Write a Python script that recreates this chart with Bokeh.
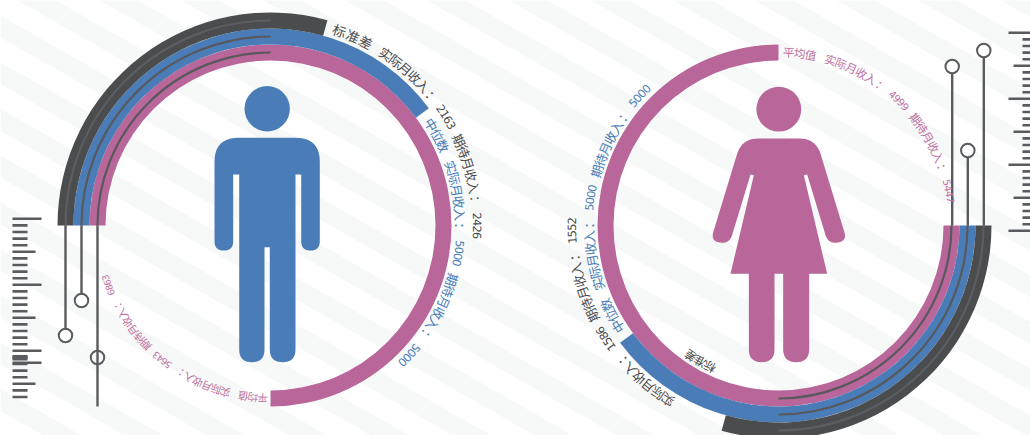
import math
from bokeh.plotting import figure
from bokeh.models import Range1d, ColumnDataSource
from bokeh.core.properties import value
from bokeh.embed import file_html
from bokeh.resources import INLINE

# ---- data ----
stat_names = ["平均值", "中位数", "标准差"]
actual_label = "实际月收入："
expected_label = "期待月收入："
male_actual = ["5643", "5000", "2163"]
male_expected = ["6863", "5000", "2426"]
female_actual = ["4999", "5000", "1586"]
female_expected = ["5447", "5000", "1552"]
ring_sweep_deg = [270, 143.5, 105.5]       # pink, blue, dark
ring_colors = ["#b9669a", "#4a7db8", "#4b4c4e"]
text_colors = ["#c0709f", "#4a7db8", "#4b4c4e"]
thin_colors = ["#58595c", "#58595c", "#5c5d60"]

W, H = 1030, 435
GREY = "#5a5b5f"
FONT = "Noto Sans CJK SC"
DIGIT_FONT = "DejaVu Sans"


def Y(v):
    return H - v


p = figure(width=W, height=H, x_range=Range1d(0, W), y_range=Range1d(0, H),
           output_backend="svg", toolbar_location=None, x_axis_type=None, y_axis_type=None,
           min_border=0, outline_line_color=None, background_fill_color="#ffffff",
           border_fill_color="#ffffff")
p.grid.visible = False

# ---- background stripes ----
sx, sy = [], []
slope = 0.57
period = 46.7
k = -30
while k < 12:
    y0 = 15 + period * k
    y1 = y0 + 22
    sx.append([0, W, W, 0])
    sy.append([Y(y0), Y(y0 + slope * W), Y(y1 + slope * W), Y(y1)])
    k += 1
p.patches(sx, sy, fill_color="#f7f9f9", line_color=None)


# ---- rulers ----
def ruler(x_edge, first, count, step, lens, side):
    l, r, t, b = [], [], [], []
    for i in range(count):
        n = lens[0] if i % 10 == 0 else lens[1] if i % 5 == 0 else lens[2]
        yy = first + step * i
        if side == "left":
            l.append(x_edge); r.append(x_edge + n)
        else:
            l.append(x_edge - n); r.append(x_edge)
        t.append(Y(yy - 1.3)); b.append(Y(yy + 1.3))
    p.quad(left=l, right=r, top=t, bottom=b, fill_color=GREY, line_color=None)


ruler(12, 218.3, 28, 6.6, (29, 23, 15), "left")
p.quad(left=[12, 12], right=[41, 27], top=[Y(361), Y(354.5)], bottom=[Y(363.6), Y(360)],
       fill_color=GREY, line_color=None)
ruler(1030, 32.3, 31, 6.6, (22, 17, 8), "right")


# ---- rings ----
def rings(cx, cy, start_deg):
    radii = [(165, 181), (181, 197), (197, 213)]
    for (ri, ro), sw, c in zip(radii, ring_sweep_deg, ring_colors):
        p.annular_wedge(x=[cx], y=[Y(cy)], inner_radius=ri, outer_radius=ro,
                        start_angle=math.radians(start_deg),
                        end_angle=math.radians(start_deg - sw),
                        direction="clock", fill_color=c, line_color=None)
    for r, c in zip((173, 189, 205), thin_colors):
        p.arc(x=[cx], y=[Y(cy)], radius=r, start_angle=math.radians(start_deg),
              end_angle=math.radians(start_deg - 90), direction="clock",
              line_color=c, line_width=2.2)


rings(270, 225, 180)
rings(778, 225, 0)

# ---- pins ----
for x, y_top, y_bot, yc in [(97, 225, 406, 357), (81, 225, 300, 300), (65, 225, 335, 335),
                            (951.7, 66, 225, 66), (967.3, 150, 225, 150), (983.3, 50, 225, 50)]:
    p.line([x, x], [Y(y_top), Y(y_bot)], line_color=GREY, line_width=2.4)
    p.scatter([x], [Y(yc)], size=13.5, marker="circle", fill_color="#ffffff",
              fill_alpha=0.0 if x == 97 else 1.0, line_color=GREY, line_width=2)


# ---- curved labels, one glyph per character ----
def layout(cx, cy, r, theta, em_deg, fs, color, parts):
    cols = {False: dict(x=[], y=[], t=[], a=[]), True: dict(x=[], y=[], t=[], a=[])}
    for s, kind in parts:
        if kind == "gap":
            theta += s
            continue
        for ch in s:
            digit = ch.isdigit()
            adv = em_deg * (0.53 if digit else 1.0)
            # the full-width colon sits in the left of its box: nudge it to the middle
            mid = theta + adv / 2 + (em_deg * 0.2 if ch == "：" else 0)
            a = math.radians(mid)
            c = cols[digit]
            c["x"].append(cx + r * math.sin(a))
            c["y"].append(Y(cy - r * math.cos(a)))
            c["t"].append(ch)
            c["a"].append(-a)
            theta += adv
    for digit, c in cols.items():
        if not c["t"]:
            continue
        p.text("x", "y", text="t", angle="a", source=ColumnDataSource(c),
               text_font=value(DIGIT_FONT if digit else FONT),
               text_font_size=value(f"{fs * 0.88 if digit else fs}px"), text_color=color,
               text_align="center", text_baseline="middle")


def row(name, a, b, g):
    return [(name, "t"), (g * 1.25, "gap"), (actual_label, "t"), (g, "gap"), (a, "t"), (g, "gap"),
            (expected_label, "t"), (g, "gap"), (b, "t")]


# male: start angles are clockwise from the top
layout(270, 225, 173, 181, 3.25, 10.5, text_colors[0],
       row(stat_names[0], male_actual[0], male_expected[0], 2.3))
layout(270, 225, 190, 56.1, 3.65, 12.8, text_colors[1],
       row(stat_names[1], male_actual[1], male_expected[1], 2.5))
layout(270, 225, 207, 17.5, 4.0, 13.5, text_colors[2], [(stat_names[2], "t")])
layout(270, 225, 207, 32.2, 3.4, 13, text_colors[2],
       [(actual_label, "t"), (2.1, "gap"), (male_actual[2], "t"), (2.1, "gap"),
        (expected_label, "t"), (2.1, "gap"), (male_expected[2], "t")])

# female
layout(778, 225, 174, 1.6, 3.65, 11.5, text_colors[0],
       row(stat_names[0], female_actual[0], female_expected[0], 2.5))
layout(778, 225, 190, 236.1, 3.65, 12.8, text_colors[1],
       row(stat_names[1], female_actual[1], female_expected[1], 2.5))
layout(778, 225, 158, 204, 4.0, 12, text_colors[2], [(stat_names[2], "t")])
layout(778, 225, 207, 210.7, 3.4, 13, text_colors[2],
       [(actual_label, "t"), (2.1, "gap"), (female_actual[2], "t"), (2.1, "gap"),
        (expected_label, "t"), (2.1, "gap"), (female_expected[2], "t")])


# ---- pictograms ----
def rounded(verts):
    """verts: (x, y, corner radius); returns the outline with rounded corners."""
    out_x, out_y = [], []
    n = len(verts)
    for i, (x, y, r) in enumerate(verts):
        if r <= 0:
            out_x.append(x); out_y.append(y)
            continue
        px, py, _ = verts[i - 1]
        nx, ny, _ = verts[(i + 1) % n]
        ux, uy = px - x, py - y
        vx, vy = nx - x, ny - y
        lu, lv = math.hypot(ux, uy), math.hypot(vx, vy)
        ux, uy, vx, vy = ux / lu, uy / lu, vx / lv, vy / lv
        cosang = max(-1, min(1, ux * vx + uy * vy))
        half = math.acos(cosang) / 2
        d = min(r / math.tan(half), lu / 2, lv / 2)
        a = (x + ux * d, y + uy * d)
        b = (x + vx * d, y + vy * d)
        for t in [j / 10 for j in range(11)]:
            out_x.append((1 - t) ** 2 * a[0] + 2 * t * (1 - t) * x + t ** 2 * b[0])
            out_y.append((1 - t) ** 2 * a[1] + 2 * t * (1 - t) * y + t ** 2 * b[1])
    return out_x, [Y(v) for v in out_y]


man = [(214, 137.3, 24), (319.3, 137.3, 24), (319.3, 250, 11), (300.7, 250, 11), (300.7, 174, 0),
       (295, 174, 0), (295, 361.7, 13), (269.3, 361.7, 13), (269.3, 246.7, 0), (264, 246.7, 0),
       (264, 361.7, 13), (238.7, 361.7, 13), (238.7, 174, 0), (232.7, 174, 0), (232.7, 250, 11),
       (214, 250, 11)]
mx, my = rounded(man)
p.patch(mx, my, fill_color=ring_colors[1], line_color=None)
p.circle(x=[266.7], y=[Y(108.3)], radius=22.7, fill_color=ring_colors[1], line_color=None)


def wz(X, Yz, r=0):
    return (700 + X / 3, 70 + Yz / 3, r)


woman = [wz(124, 204, 22), wz(346, 204, 22), wz(440, 512, 11), wz(383, 520, 11), wz(320, 312), wz(310, 314),
         wz(380, 610), wz(326, 610), wz(326, 875, 13), wz(248, 875, 13), wz(248, 610), wz(222, 610),
         wz(222, 875, 13), wz(145, 875, 13), wz(145, 610), wz(90, 610), wz(160, 314), wz(150, 312),
         wz(87, 520, 11), wz(30, 512, 11)]
wx, wy = rounded(woman)
p.patch(wx, wy, fill_color=ring_colors[0], line_color=None)
p.circle(x=[778.3], y=[Y(108.7)], radius=22.4, fill_color=ring_colors[0], line_color=None)

open("out.html", "w").write(file_html(p, INLINE))
